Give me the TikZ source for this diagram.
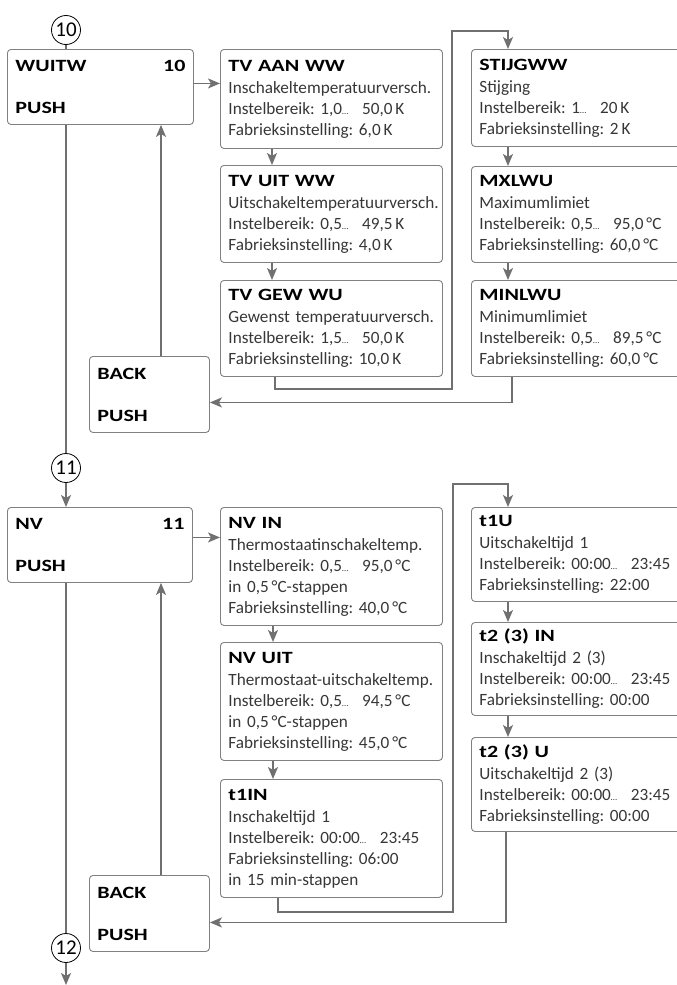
\documentclass[tikz,border=0pt]{standalone}
\usepackage{fontspec}
\setmainfont{Carlito}
\newfontfamily\headfont{Carlito}[FakeStretch=1.28]
\usetikzlibrary{arrows.meta,positioning}
\definecolor{linegray}{RGB}{112,112,112}
\definecolor{framegray}{RGB}{128,128,128}
\definecolor{textgray}{RGB}{55,55,55}
\hyphenpenalty=10000
\frenchspacing

\begin{document}
\begin{tikzpicture}[x=1pt,y=-1pt]
	\def\dd{{\fontsize{9}{9}\selectfont\ldots}\hspace{0.8em}}
	\def\ttl#1{{\headfont\bfseries\color{black}#1}}

	\tikzset{line/.style={draw=linegray,line width=1.6pt}}
	\tikzset{arrow/.style={line,-{Stealth[length=12pt,width=10pt,inset=3pt]}}}
	\tikzset{box/.style={draw=framegray,line width=0.9pt,rounded corners=3.5pt,anchor=north west,inner xsep=8pt,inner ysep=0pt,align=left,text=textgray,font=\fontsize{17.2}{21}\selectfont}}
	\tikzset{num/.style={circle,draw=black,line width=0.8pt,inner sep=0pt,minimum size=29pt,font=\fontsize{21}{21}\selectfont}}

	\useasboundingbox (0,0) rectangle (677,985);
	\clip (0,0) rectangle (677,985);

	% menu 10
	\node[num] (c10) at (66,30) {10};
	\node[box,text width=170pt,minimum height=75pt] (wuitw) at (7,49) {\makebox[170pt]{\ttl{WUITW}\hfill\ttl{10}}\\[21pt]\ttl{PUSH}};
	\node[box,text width=206pt,minimum height=99pt] (tvaan) at (220,49) {\ttl{TV AAN WW}\\[1pt]Inschakeltemperatuurversch.\\Instelbereik: 1,0\dd 50,0\,K\\Fabrieksinstelling: 6,0\,K};
	\node[box,text width=206pt,minimum height=97pt] (tvuit) at (220,165) {\ttl{TV UIT WW}\\[1pt]Uitschakeltemperatuurversch.\\Instelbereik: 0,5\dd 49,5\,K\\Fabrieksinstelling: 4,0\,K};
	\node[box,text width=206pt,minimum height=96pt] (tvgew) at (220,280) {\ttl{TV GEW WU}\\[1pt]Gewenst temperatuurversch.\\Instelbereik: 1,5\dd 50,0\,K\\Fabrieksinstelling: 10,0\,K};
	\node[box,text width=214pt,minimum height=97pt] (stijg) at (471,49) {\ttl{STIJGWW}\\[1pt]Stijging\\Instelbereik: 1\dd 20\,K\\Fabrieksinstelling: 2\,K};
	\node[box,text width=214pt,minimum height=96pt] (mxlwu) at (471,166) {\ttl{MXLWU}\\[1pt]Maximumlimiet\\Instelbereik: 0,5\dd 95,0\,°C\\Fabrieksinstelling: 60,0\,°C};
	\node[box,text width=214pt,minimum height=96pt] (minlwu) at (471,280) {\ttl{MINLWU}\\[1pt]Minimumlimiet\\Instelbereik: 0,5\dd 89,5\,°C\\Fabrieksinstelling: 60,0\,°C};
	\node[box,text width=104pt,minimum height=76pt] (back1) at (89,356) {\ttl{BACK}\\[21pt]\ttl{PUSH}};

	% menu 11
	\node[num] (c11) at (66,468) {11};
	\node[box,text width=169pt,minimum height=75pt] (nv) at (7,507) {\makebox[169pt]{\ttl{NV}\hfill\ttl{11}}\\[21pt]\ttl{PUSH}};
	\node[box,text width=206pt,minimum height=118pt] (nvin) at (220,507) {\ttl{NV IN}\\[1pt]Thermostaatinschakeltemp.\\Instelbereik: 0,5\dd 95,0\,°C\\in 0,5\,°C-stappen\\Fabrieksinstelling: 40,0\,°C};
	\node[box,text width=206pt,minimum height=118pt] (nvuit) at (220,642) {\ttl{NV UIT}\\[1pt]Thermostaat-uitschakeltemp.\\Instelbereik: 0,5\dd 94,5\,°C\\in 0,5\,°C-stappen\\Fabrieksinstelling: 45,0\,°C};
	\node[box,text width=206pt,minimum height=118pt] (t1in) at (220,779) {\ttl{t1IN}\\[1pt]Inschakeltijd 1\\Instelbereik: 00:00\dd 23:45\\Fabrieksinstelling: 06:00\\in 15 min-stappen};
	\node[box,text width=214pt,minimum height=94pt] (t1u) at (471,507) {\ttl{t1U}\\[1pt]Uitschakeltijd 1\\Instelbereik: 00:00\dd 23:45\\Fabrieksinstelling: 22:00};
	\node[box,text width=214pt,minimum height=93pt] (t2in) at (471,622) {\ttl{t2 (3) IN}\\[1pt]Inschakeltijd 2 (3)\\Instelbereik: 00:00\dd 23:45\\Fabrieksinstelling: 00:00};
	\node[box,text width=214pt,minimum height=94pt] (t2u) at (471,737) {\ttl{t2 (3) U}\\[1pt]Uitschakeltijd 2 (3)\\Instelbereik: 00:00\dd 23:45\\Fabrieksinstelling: 00:00};
	\node[box,text width=104pt,minimum height=76pt] (back2) at (89,875) {\ttl{BACK}\\[21pt]\ttl{PUSH}};
	\node[num] (c12) at (66,948) {12};
	\coordinate (out) at (66,985);

	% connectors, menu 10
	\coordinate (a1) at ([yshift=3.5pt]wuitw.east);
	\coordinate (b1) at ([xshift=72pt]back1.north west);
	\draw[line] (c10) -- (c10 |- wuitw.north);
	\draw[arrow] (a1) -- (a1 -| tvaan.west);
	\draw[arrow] ([xshift=52pt]tvaan.south west) -- ([xshift=52pt]tvuit.north west);
	\draw[arrow] ([xshift=52pt]tvuit.south west) -- ([xshift=52pt]tvgew.north west);
	\draw[arrow] ([xshift=55pt]tvgew.south west) -- ++(0,12) -| (452,31) -| ([xshift=37pt]stijg.north west);
	\draw[arrow] ([xshift=37pt]stijg.south west) -- ([xshift=37pt]mxlwu.north west);
	\draw[arrow] ([xshift=37pt]mxlwu.south west) -- ([xshift=37pt]minlwu.north west);
	\draw[arrow] ([xshift=41pt]minlwu.south west) |- ([yshift=-8pt]back1.east);
	\draw[arrow] (b1) -- (b1 |- wuitw.south);
	\draw[line] (c10 |- wuitw.south) -- (c11);
	\draw[arrow] (c11) -- (c11 |- nv.north);

	% connectors, menu 11
	\coordinate (a2) at ([yshift=7.5pt]nv.east);
	\coordinate (b2) at ([xshift=72pt]back2.north west);
	\draw[arrow] (a2) -- (a2 -| nvin.west);
	\draw[arrow] ([xshift=53pt]nvin.south west) -- ([xshift=53pt]nvuit.north west);
	\draw[arrow] ([xshift=53pt]nvuit.south west) -- ([xshift=53pt]t1in.north west);
	\draw[arrow] ([xshift=58pt]t1in.south west) -- ++(0,14) -| (453,484) -| ([xshift=37pt]t1u.north west);
	\draw[arrow] ([xshift=37pt]t1u.south west) -- ([xshift=37pt]t2in.north west);
	\draw[arrow] ([xshift=37pt]t2in.south west) -- ([xshift=37pt]t2u.north west);
	\draw[arrow] ([xshift=35pt]t2u.south west) |- ([yshift=-9pt]back2.east);
	\draw[arrow] (b2) -- (b2 |- nv.south);
	\draw[line] (c11 |- nv.south) -- (c12);
	\draw[arrow] (c12) -- (out);
\end{tikzpicture}
\end{document}
